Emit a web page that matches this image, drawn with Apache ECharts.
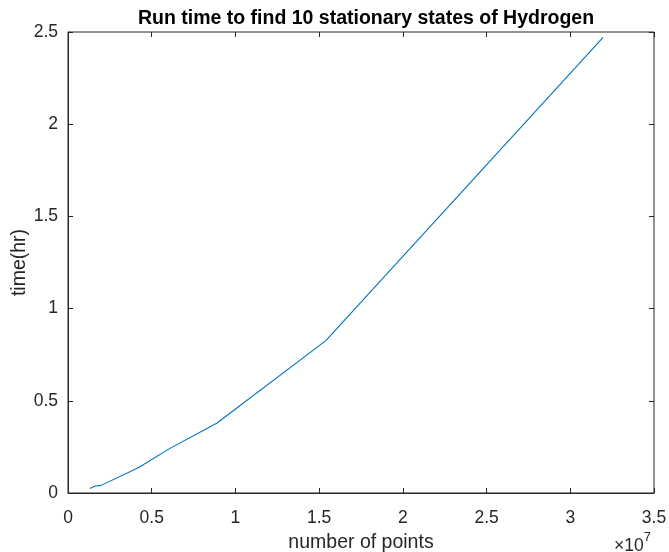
<!DOCTYPE html>
<html>
<head>
<meta charset="utf-8">
<script src="https://cdn.jsdelivr.net/npm/echarts@6/dist/echarts.min.js"></script>
<style>
  html, body { margin: 0; padding: 0; background: #fff; }
  #chart { width: 669px; height: 552px; }
</style>
</head>
<body>
<div id="chart"></div>
<script>
// Grid size (number of points) and measured run time in hours
const numPoints = [1.31e6, 1.61e6, 1.95e6, 4.20e6, 6.09e6, 8.88e6, 1.54e7, 3.196e7];
const runTimeHr = [0.025, 0.038, 0.040, 0.137, 0.242, 0.378, 0.826, 2.471];

const xTickScale = 1e7;
const axisColor = '#262626';
const font = 'Liberation Sans, Arial, Helvetica, sans-serif';
const tickFont = 17.5;
const labelFont = 19.5;

const chart = echarts.init(document.getElementById('chart'), null, { renderer: 'canvas' });

const fmt = v => String(parseFloat(v.toFixed(4)));

// top / right edges: inward ticks only, the frame comes from the grid border
const boxAxis = {
  axisLine: { show: false, onZero: false },
  axisTick: { show: true, inside: true, length: 5, lineStyle: { color: axisColor, width: 1 } },
  axisLabel: { show: false },
  splitLine: { show: false }
};

chart.setOption({
  animation: false,
  backgroundColor: '#ffffff',
  title: {
    text: 'Run time to find 10 stationary states of Hydrogen',
    left: 361,
    textAlign: 'center',
    top: 4,
    textStyle: { fontFamily: font, fontSize: labelFont, fontWeight: 'bold', color: '#000' }
  },
  grid: {
    left: 68, right: 15, top: 32, bottom: 59,
    containLabel: false, outerBoundsMode: 'none',
    show: true, borderColor: axisColor, borderWidth: 1, backgroundColor: 'transparent'
  },
  xAxis: [
    {
      type: 'value', min: 0, max: 3.5e7, interval: 0.5e7, position: 'bottom',
      name: 'number of points', nameLocation: 'middle', nameGap: 40, nameMoveOverlap: false,
      nameTextStyle: { fontFamily: font, fontSize: labelFont, color: axisColor },
      axisLine: { show: true, onZero: false, lineStyle: { color: axisColor, width: 1 } },
      axisTick: { show: true, inside: true, length: 5, lineStyle: { color: axisColor, width: 1 } },
      axisLabel: { fontFamily: font, fontSize: tickFont, color: axisColor, margin: 16,
        formatter: v => fmt(v / xTickScale) },
      splitLine: { show: false }
    },
    Object.assign({ type: 'value', min: 0, max: 3.5e7, interval: 0.5e7, position: 'top' }, boxAxis)
  ],
  yAxis: [
    {
      type: 'value', min: 0, max: 2.5, interval: 0.5, position: 'left',
      name: 'time(hr)', nameLocation: 'middle', nameGap: 38, nameRotate: 90, nameMoveOverlap: false,
      nameTextStyle: { fontFamily: font, fontSize: labelFont, color: axisColor },
      axisLine: { show: true, onZero: false, lineStyle: { color: axisColor, width: 1 } },
      axisTick: { show: true, inside: true, length: 5, lineStyle: { color: axisColor, width: 1 } },
      axisLabel: { fontFamily: font, fontSize: tickFont, color: axisColor, margin: 10, formatter: v => fmt(v) },
      splitLine: { show: false }
    },
    Object.assign({ type: 'value', min: 0, max: 2.5, interval: 0.5, position: 'right' }, boxAxis)
  ],
  graphic: [
    {
      type: 'text', right: 18, top: 531,
      style: {
        text: '{a|×10}{b|7}',
        rich: {
          a: { fontFamily: font, fontSize: tickFont, fill: axisColor, verticalAlign: 'bottom' },
          b: { fontFamily: font, fontSize: 13, fill: axisColor, verticalAlign: 'top', padding: [0, 0, 11, 0] }
        }
      }
    }
  ],
  series: [
    {
      type: 'line',
      xAxisIndex: 0, yAxisIndex: 0,
      data: numPoints.map((n, i) => [n, runTimeHr[i]]),
      showSymbol: false,
      lineStyle: { color: '#0072BD', width: 1.1 },
      itemStyle: { color: '#0072BD' }
    }
  ]
});
</script>
</body>
</html>
